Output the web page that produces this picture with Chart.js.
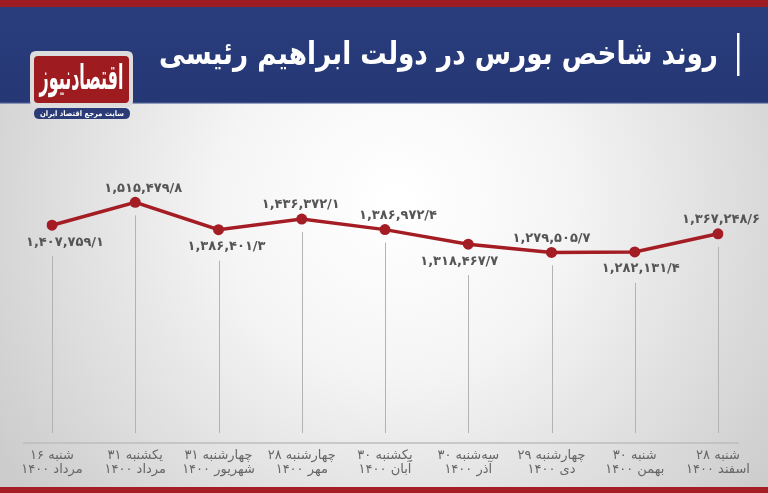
<!DOCTYPE html>
<html><head><meta charset="utf-8">
<script src="https://cdn.jsdelivr.net/npm/chart.js@4/dist/chart.umd.min.js"></script>
<style>html,body{margin:0;padding:0;background:#fff;overflow:hidden}#wrap{position:relative;width:768px;height:493px}canvas{display:block}</style>
</head><body><div id="wrap"><canvas id="c" width="768" height="493"></canvas></div>
<script>
// ---- data ----
const weekdays = ['شنبه ۱۶','یکشنبه ۳۱','چهارشنبه ۳۱','چهارشنبه ۲۸','یکشنبه ۳۰','سه‌شنبه ۳۰','چهارشنبه ۲۹','شنبه ۳۰','شنبه ۲۸'];
const months = ['مرداد ۱۴۰۰','مرداد ۱۴۰۰','شهریور ۱۴۰۰','مهر ۱۴۰۰','آبان ۱۴۰۰','آذر ۱۴۰۰','دی ۱۴۰۰','بهمن ۱۴۰۰','اسفند ۱۴۰۰'];
const indexValues = [1407759.1,1515479.8,1386401.3,1436372.1,1386972.4,1318467.7,1279505.7,1282131.4,1367248.6];
const titleText = 'روند شاخص بورس در دولت ابراهیم رئیسی';
const logoName = 'اقتصادنیوز';
const logoTagline = 'سایت مرجع اقتصاد ایران';

// ---- helpers ----
const FA = '۰۱۲۳۴۵۶۷۸۹';
function faNum(v){
  const s = v.toFixed(1).split('.');
  const intPart = s[0].replace(/\B(?=(\d{3})+(?!\d))/g, ',');
  return (intPart + '/' + s[1]).replace(/\d/g, d => FA[+d]);
}
const labels = weekdays.map((w,i) => [w, months[i]]);

// label style (placement around points)
const labelSide = ['below','above','below','above','above','below','above','below','above'];
const labelDx = [13,8,8,-1,13,-9,0,6,3];

function roundRect(ctx,x,y,w,h,r){
  ctx.beginPath();
  ctx.moveTo(x+r,y);ctx.lineTo(x+w-r,y);ctx.quadraticCurveTo(x+w,y,x+w,y+r);
  ctx.lineTo(x+w,y+h-r);ctx.quadraticCurveTo(x+w,y+h,x+w-r,y+h);
  ctx.lineTo(x+r,y+h);ctx.quadraticCurveTo(x,y+h,x,y+h-r);
  ctx.lineTo(x,y+r);ctx.quadraticCurveTo(x,y,x+r,y);ctx.closePath();
}

const decor = {
  id:'decor',
  beforeDraw(chart){
    const ctx = chart.ctx, W = chart.width, H = chart.height;
    ctx.save();
    // background
    const g = ctx.createRadialGradient(395,200,10,395,200,470);
    g.addColorStop(0,'#ffffff');
    g.addColorStop(0.35,'#f5f5f5');
    g.addColorStop(1,'#cccccc');
    ctx.fillStyle = g; ctx.fillRect(0,0,W,H);
    // header
    ctx.fillStyle = '#9d1c22'; ctx.fillRect(0,0,W,7);
    const hg = ctx.createLinearGradient(0,7,0,103);
    hg.addColorStop(0,'#2a3d7c'); hg.addColorStop(1,'#253775');
    ctx.fillStyle = hg; ctx.fillRect(0,7,W,96);
    ctx.fillStyle = '#3d4f8a'; ctx.fillRect(0,102,W,1.5);
    // title
    ctx.fillStyle = '#ffffff';
    let fs = 30;
    ctx.font = 'bold '+fs+'px "DejaVu Sans"';
    const mw = ctx.measureText(titleText).width;
    fs = fs * 560 / mw;
    ctx.font = 'bold '+fs.toFixed(1)+'px "DejaVu Sans"';
    ctx.save();
    ctx.translate(718, 56);
    ctx.scale(1, 1.2);
    ctx.textAlign = 'right'; ctx.textBaseline = 'middle';
    ctx.fillText(titleText, 0, 0);
    ctx.restore();
    ctx.fillRect(737,33,2.5,43);
    // logo frame
    roundRect(ctx,30,51,103,56,6);
    ctx.fillStyle = '#dcdcdc'; ctx.fill();
    roundRect(ctx,34,56,95,47,4);
    ctx.fillStyle = '#9e1b20'; ctx.fill();
    ctx.fillStyle = '#ffffff';
    ctx.font = 'bold 24px "DejaVu Sans"';
    const lw = ctx.measureText(logoName).width;
    ctx.save();
    ctx.translate(81.5,80);
    ctx.scale(84/lw, 1.45);
    ctx.textAlign='center'; ctx.textBaseline='middle';
    ctx.fillText(logoName,0,0);
    ctx.restore();
    roundRect(ctx,34,108,96,11,5.5);
    ctx.fillStyle = '#2b3b78'; ctx.fill();
    ctx.fillStyle = '#ffffff';
    ctx.font = 'bold 7px "DejaVu Sans"';
    const tw = ctx.measureText(logoTagline).width;
    ctx.save();
    ctx.translate(82,113.7);
    ctx.scale(Math.min(1, 84/tw), 1.1);
    ctx.textAlign='center'; ctx.textBaseline='middle';
    ctx.fillText(logoTagline,0,0);
    ctx.restore();
    // bottom band
    ctx.fillStyle = '#a51e24'; ctx.fillRect(0,487,W,6);
    // baseline
    ctx.strokeStyle = '#bdbdbd'; ctx.lineWidth = 1.5;
    ctx.beginPath(); ctx.moveTo(23,443); ctx.lineTo(739,443); ctx.stroke();
    ctx.restore();
  },
  beforeDatasetsDraw(chart){
    const ctx = chart.ctx, meta = chart.getDatasetMeta(0);
    ctx.save();
    ctx.strokeStyle = '#b3b3b3'; ctx.lineWidth = 1;
    meta.data.forEach((p,i) => {
      const y0 = labelSide[i] === 'above' ? p.y + 13 : p.y + 31;
      ctx.beginPath(); ctx.moveTo(Math.round(p.x)+0.5, y0); ctx.lineTo(Math.round(p.x)+0.5, 433); ctx.stroke();
    });
    ctx.restore();
  },
  afterDatasetsDraw(chart){
    const ctx = chart.ctx, meta = chart.getDatasetMeta(0);
    ctx.save();
    ctx.fillStyle = '#555555';
    ctx.font = 'bold 13px "DejaVu Sans"';
    ctx.textAlign = 'center'; ctx.textBaseline = 'middle';
    meta.data.forEach((p,i) => {
      const y = labelSide[i] === 'above' ? p.y - 14 : p.y + 17;
      ctx.fillText(faNum(indexValues[i]), p.x + labelDx[i], y);
    });
    ctx.restore();
  }
};

new Chart(document.getElementById('c'), {
  type:'line',
  data:{ labels, datasets:[{
    data: indexValues,
    borderColor:'#a51d24', backgroundColor:'#a51d24',
    borderWidth:3.5, pointRadius:5.5, pointBackgroundColor:'#a51d24', pointBorderWidth:0,
    tension:0, fill:false
  }]},
  options:{
    responsive:false, animation:false, devicePixelRatio:1,
    layout:{padding:{left:52,right:50,top:150,bottom:6}},
    plugins:{legend:{display:false}, tooltip:{enabled:false}},
    scales:{
      x:{ offset:false, grid:{display:false, drawTicks:false}, border:{display:false},
          ticks:{ color:'#666666', font:{family:'DejaVu Sans', size:13, lineHeight:1.08}, padding:6, maxRotation:0, autoSkip:false },
          afterFit(s){ s.height = 44; } },
      y:{ display:false, min:382800, max:1761600 }
    }
  },
  plugins:[decor]
});
</script></body></html>
